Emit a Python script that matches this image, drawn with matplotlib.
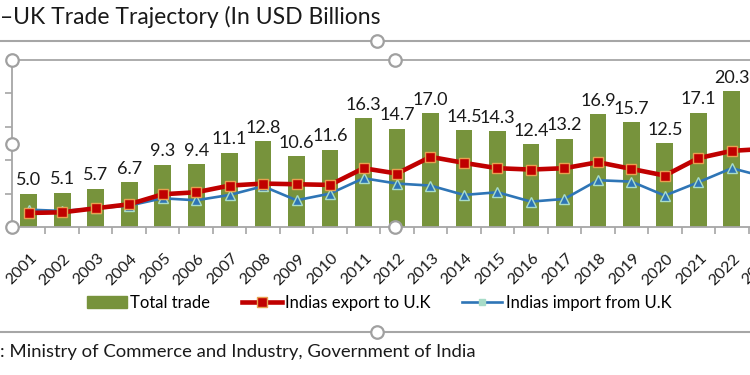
import numpy as np
import matplotlib.pyplot as plt
from matplotlib.lines import Line2D
from matplotlib.patches import Patch
from matplotlib.transforms import ScaledTranslation

plt.rcParams['font.family'] = ['Lato', 'DejaVu Sans']

# data (USD billions)
years = [str(y) for y in range(2001, 2024)]
total_trade = [5.0, 5.1, 5.7, 6.7, 9.3, 9.4, 11.1, 12.8, 10.6, 11.6, 16.3, 14.7,
               17.0, 14.5, 14.3, 12.4, 13.2, 16.9, 15.7, 12.5, 17.1, 20.3, 19.2]
exports_uk = [2.1, 2.2, 2.8, 3.4, 4.9, 5.2, 6.2, 6.5, 6.4, 6.3, 8.8, 8.0,
              10.5, 9.6, 8.8, 8.6, 8.8, 9.7, 8.7, 7.7, 10.3, 11.4, 11.7]
imports_uk = [2.6, 2.4, 2.8, 3.2, 4.3, 4.0, 4.8, 6.1, 4.0, 5.0, 7.3, 6.5,
              6.2, 4.8, 5.2, 3.8, 4.2, 7.0, 6.8, 4.7, 6.7, 8.8, 7.5]

W, H = 750, 375
fig = plt.figure(figsize=(7.5, 3.75), dpi=100)
grey = '#A6A6A6'

# plot area runs past the right edge (cropped screenshot)
ax = fig.add_axes([12 / W, 1 - 227 / H, 770 / W, 167 / H])
x = np.arange(len(years))

ax.bar(x, total_trade, width=0.5, color='#77933C', zorder=2)
ax.plot(x, exports_uk, color='#C00000', lw=3.3, marker='s', ms=6.5,
        mfc='#C00000', mec='#E8A050', mew=1.0, zorder=4)
ax.plot(x, imports_uk, color='#2E75B6', lw=1.9, marker='^', ms=7,
        mfc='#2E75B6', mec='#A8DCC8', mew=1.0, zorder=3)

# value labels (last one falls outside the cropped view)
for xi, v in zip(x[:-1], total_trade[:-1]):
    ax.annotate(f'{v:.1f}', (xi, v), xytext=(0, 4), textcoords='offset points',
                ha='center', va='bottom', fontsize=13, color='#1A1A1A')

ax.set_xlim(-0.5, len(years) - 0.5)
ax.set_ylim(0, 25)
ax.set_yticks([5, 10, 15, 20])
ax.set_yticklabels([])
ax.tick_params(axis='y', direction='out', length=5, color=grey, width=1.2)

ax.set_xticks(x)
ax.set_xticklabels(years, rotation=45, ha='right', va='center',
                   rotation_mode='anchor', fontsize=11.5, color='#1A1A1A')
ax.tick_params(axis='x', which='major', length=0, pad=21)
shift = ScaledTranslation(0.06, 0, fig.dpi_scale_trans)
for lab in ax.get_xticklabels():
    lab.set_transform(lab.get_transform() + shift)
ax.set_xticks(np.arange(-0.5, len(years)), minor=True)
ax.tick_params(axis='x', which='minor', length=5, color=grey, width=1.2)

for side in ['left', 'top', 'bottom']:
    ax.spines[side].set_color(grey)
    ax.spines[side].set_linewidth(1.3)
ax.spines['right'].set_visible(False)

# legend
handles = [
    Patch(color='#77933C', label='Total trade'),
    Line2D([], [], color='#C00000', lw=3.3, marker='s', ms=6.5, mfc='#C00000',
           mec='#E8A050', label='Indias export to U.K'),
    Line2D([], [], color='#2E75B6', lw=1.9, marker='s', ms=4, mfc='#A8DCC8',
           mec='#A8DCC8', label='Indias import from U.K'),
]
fig.legend(handles=handles, loc='center', bbox_to_anchor=(379 / W, 1 - 303 / H),
           ncol=3, frameon=False, fontsize=12, handlelength=2.4,
           handletextpad=0.2, columnspacing=1.9)

# title and source
fig.text(0, 1 - 17 / H, '\u2013UK Trade Trajectory (In USD Billions',
         fontsize=16.5, va='center', ha='left', color='#1A1A1A')
fig.text(0, 1 - 352 / H, ': Ministry of Commerce and Industry, Government of India',
         fontsize=13.3, va='center', ha='left', color='#1A1A1A')

# chart frame lines and selection handles
for yy in [41, 332]:
    fig.add_artist(Line2D([0, 1], [1 - yy / H] * 2, transform=fig.transFigure,
                          color=grey, lw=1.5))
handles_px = [(12, 60), (12, 144), (12, 227), (395, 60), (395, 227), (377, 41), (377, 332)]
for hx, hy in handles_px:
    fig.add_artist(Line2D([hx / W], [1 - hy / H], transform=fig.transFigure,
                          marker='o', ms=9, mfc='white', mec='#A0A0A0', mew=1.6,
                          zorder=10))

fig.savefig('out.png', dpi=100)
